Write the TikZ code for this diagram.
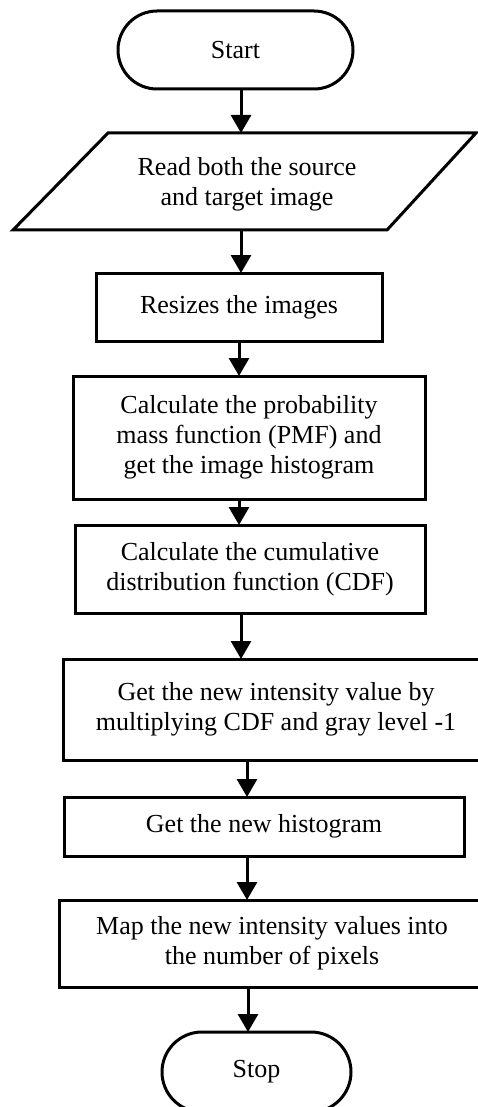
\documentclass[tikz,border=0pt]{standalone}
\usepackage{fontspec}
\setmainfont{Liberation Serif}
\usetikzlibrary{arrows.meta}
\begin{document}
\begin{tikzpicture}[x=1pt,y=-1pt,
  every node/.style={font=\fontsize{26}{30}\selectfont, align=center, inner sep=0pt, outer sep=0pt},
  box/.style={draw, line width=3pt},
  terminal/.style={draw, line width=3pt, rounded corners=39pt},
  flow/.style={line width=3pt, -{Triangle[width=20pt,length=18pt]}}]
\useasboundingbox (0,0) rectangle (477,1107);

% columns of the vertical connectors
\coordinate (colA) at (241,0);
\coordinate (colB) at (239,0);
\coordinate (colC) at (247,0);
\coordinate (colD) at (248,0);

% terminals and process boxes
\node[terminal, minimum width=235pt, minimum height=78pt] (start) at (235.5,50) {Start};

% input/output parallelogram
\draw[line width=3pt, line join=miter] (108,133) -- (476,133) -- (387,230) -- (13,230) -- cycle;
\node (read) at (247,184) {Read both the source\\and target image};
\coordinate (read-top) at (241,133);
\coordinate (read-bot) at (241,230);

\node[box, minimum width=286pt, minimum height=68pt] (resize) at (239,307) {Resizes the images};
\node[box, minimum width=352pt, minimum height=123pt] (pmf) at (249,437.5)
  {Calculate the probability\\mass function (PMF) and\\get the image histogram};
\node[box, minimum width=350pt, minimum height=88pt] (cdf) at (250,569)
  {Calculate the cumulative\\distribution function (CDF)};
\node[box, minimum width=426pt, minimum height=101pt] (newint) at (276,709.5)
  {Get the new intensity value by\\multiplying CDF and gray level -1};
\node[box, minimum width=400pt, minimum height=59pt] (hist) at (264,826.5) {Get the new histogram};
\node[box, minimum width=426pt, minimum height=87pt] (mapv) at (272,943.5)
  {Map the new intensity values into\\the number of pixels};
\node[terminal, rounded corners=40pt, minimum width=189pt, minimum height=80pt] (stop) at (256.5,1072) {Stop};

% connectors
\draw[flow] (start.south -| colA) -- (read-top);
\draw[flow] (read-bot) -- (resize.north -| colA);
\draw[flow] (resize.south -| colB) -- (pmf.north -| colB);
\draw[flow] (pmf.south -| colB) -- (cdf.north -| colB);
\draw[flow] (cdf.south -| colA) -- (newint.north -| colA);
\draw[flow] (newint.south -| colC) -- (hist.north -| colC);
\draw[flow] (hist.south -| colC) -- (mapv.north -| colC);
\draw[flow] (mapv.south -| colD) -- (stop.north -| colD);
\end{tikzpicture}
\end{document}
